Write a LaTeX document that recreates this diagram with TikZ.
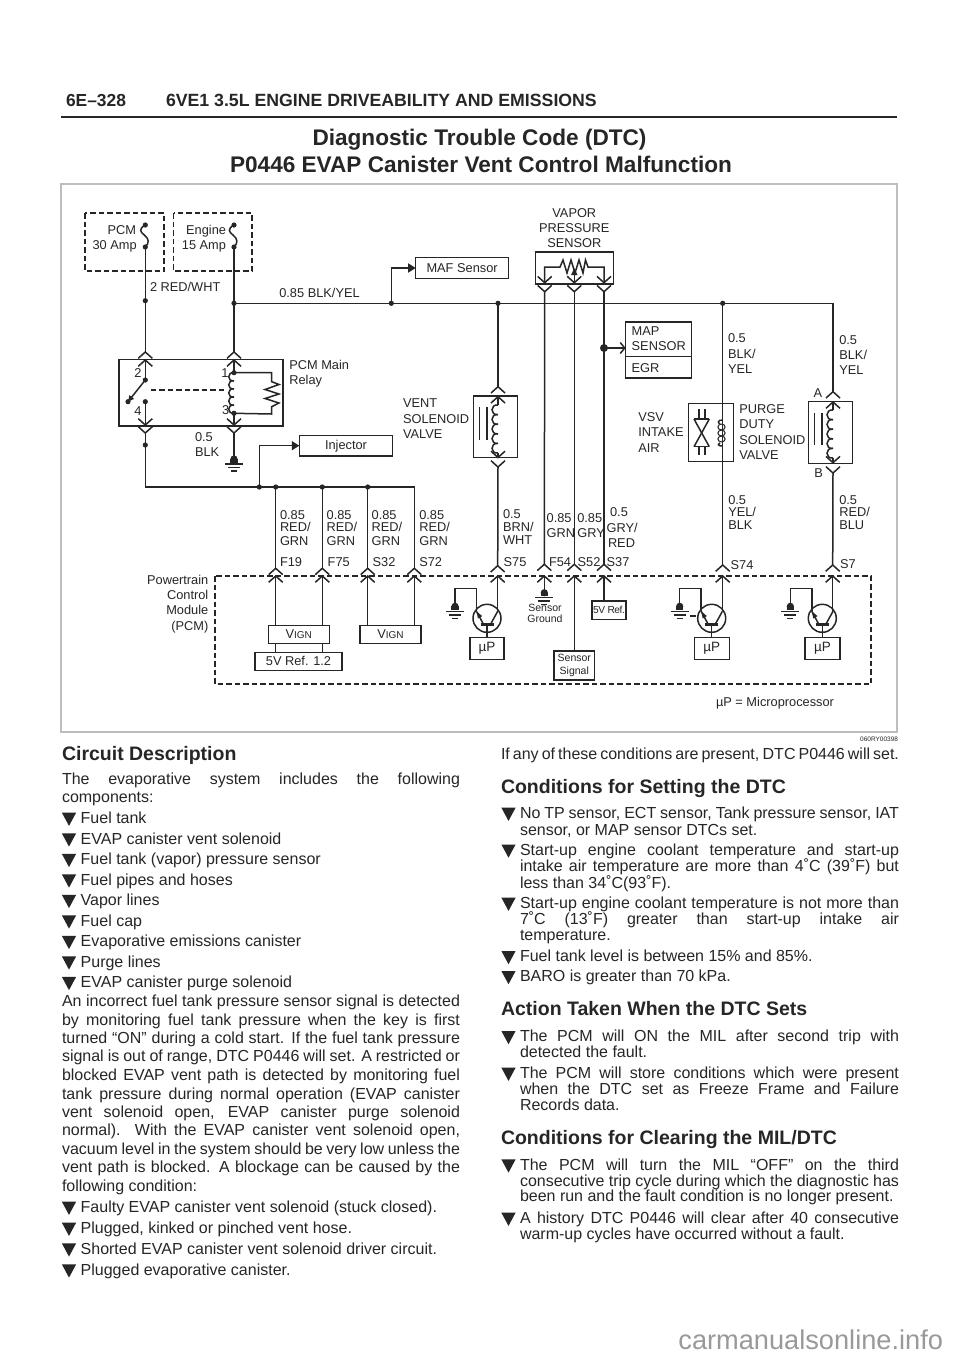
\documentclass[tikz,border=0pt]{standalone}
\usepackage{fontspec}
\setmainfont{Liberation Sans}
\usetikzlibrary{arrows.meta}
\definecolor{ink}{HTML}{262626}
\definecolor{framegray}{HTML}{BDBDBD}
\definecolor{markgray}{HTML}{999999}
\newcount\tcnt
\newcommand{\fs}[1]{\fontsize{#1}{#1}\selectfont}
\newcommand{\lab}[3]{\global\advance\tcnt by 1 \node[txt,anchor=base west] (t\the\tcnt) at (#1,{#2+4.6}) {\fs{12.8}#3};}
\newcommand{\labr}[3]{\global\advance\tcnt by 1 \node[txt,anchor=base east] (t\the\tcnt) at (#1,{#2+4.6}) {\fs{12.8}#3};}
\newcommand{\labc}[3]{\global\advance\tcnt by 1 \node[txt,anchor=base] (t\the\tcnt) at (#1,{#2+4.6}) {\fs{12.8}#3};}
% body text: x, centre y, text
\newcommand{\bt}[3]{\global\advance\tcnt by 1 \node[txt,anchor=base west] (t\the\tcnt) at (#1,{#2+5.6}) {\fs{16}#3};}
% justified line: x, centre y, width, text
\newcommand{\bj}[4]{\global\advance\tcnt by 1 \node[txt,anchor=base west] (t\the\tcnt) at (#1,{#2+5.6}) {\fs{16}\makebox[#3pt][s]{#4}};}
\newcommand{\hd}[3]{\global\advance\tcnt by 1 \node[txt,anchor=base west] (t\the\tcnt) at (#1,{#2+7}) {\fs{19.5}\bfseries #3};}
\newcommand{\tri}[2]{\fill[ink] ({#1+0.4},{#2-5}) -- ({#1+14.6},{#2-5}) -- ({#1+7.5},{#2+8.2}) -- cycle;}
\tikzset{
  txt/.style={inner sep=0pt,outer sep=0pt,text=ink},
  wire/.style={draw=ink,line width=1.5pt},
  box/.style={draw=ink,line width=1.5pt,inner sep=0pt,outer sep=0pt,text=ink},
  dsh/.style={draw=ink,line width=1.5pt,dash pattern=on 5.5pt off 3pt},
  chevup/.pic={\draw[wire] (-7,6.3) -- (0,0) -- (7,6.3);},
  chevdn/.pic={\draw[wire] (-7,-6.3) -- (0,0) -- (7,-6.3);},
  jdot/.pic={\fill[ink] (0,0) circle (2.6);},
  gnd/.pic={\fill[ink] (0,0) circle (3.6); \fill[ink] (-3.6,0) rectangle (3.6,3.6);
     \draw[wire] (-9,5) -- (9,5); \draw[wire] (-6,8.5) -- (6,8.5); \draw[wire] (-3,12) -- (3,12);},
  coilbump/.pic={\foreach \i in {0,...,4}{\draw[wire] (0,{\i*9.6}) .. controls (-8,{\i*9.6-1}) and (-8,{\i*9.6+10.6}) .. (0,{\i*9.6+9.6});}},
  relaycoil/.pic={\foreach \i in {0,...,4}{\draw[wire] (0,{\i*8.1}) .. controls (-7,{\i*8.1-1}) and (-7,{\i*8.1+9.1}) .. (0,{\i*8.1+8.1});}},
  fusewave/.pic={\draw[wire] (0,0) .. controls (-7,4) and (-5,7) .. (-1,10) .. controls (4,14) and (4,18) .. (0,22);},
  npn/.pic={
    \draw[wire] (0,0) circle (14);
    \draw[ink,line width=3.2pt] (-6.5,6) -- (6.5,6);
    \draw[wire] (10.7,-7) -- (3.5,6);
    \draw[wire] (-3.5,6) -- (-10.5,-7);
    \fill[ink] (-10.5,-7) -- (-4.8,-2.2) -- (-9,0.2) -- cycle;
    \draw[wire] (0,6) -- (0,19);
    \draw[wire] (-10.5,-7) -- (-10.5,-30) -- (-32,-30) -- (-32,-12);
    \pic at (-32,-12) {gnd};
  },
  ar/.style={-{Triangle[length=7.5pt,width=9pt]}},
  ab/.style={-{Straight Barb[length=4.5pt,width=11pt]}},
}
\begin{document}
\begin{tikzpicture}[x=1pt,y=-1pt]
\useasboundingbox (0,0) rectangle (960,1358);
\fill[white] (0,0) rectangle (960,1358);
% ---- header ----
\global\tcnt=0
\node[txt,anchor=base west] (hdA) at (66,106) {\fs{17.4}\bfseries 6E–328};
\node[txt,anchor=base west] (hdB) at (166,106) {\fs{17.7}\bfseries 6VE1 3.5L ENGINE DRIVEABILITY AND EMISSIONS};
\draw[ink,line width=1.8pt] (61,116.7) -- (897,116.7);
\node[txt,anchor=base] (ttlA) at (479.5,145) {\fs{22.6}\bfseries Diagnostic Trouble Code (DTC)};
\node[txt,anchor=base] (ttlB) at (481,172) {\fs{22.6}\bfseries P0446 EVAP Canister Vent Control Malfunction};
\draw[framegray,line width=1.4pt] (61,184) rectangle (897,732);
\node[txt,anchor=base east] (ref) at (898,741.5) {\fs{6.5}060RY00398};
\node[inner sep=0pt,outer sep=0pt,text=markgray,anchor=base east] (mark) at (943,1349.3) {\fs{27.2}carmanualsonline.info};

% ---- named points ----
\coordinate (f1t) at (145.3,225); \coordinate (f1b) at (145.3,247);
\coordinate (f2t) at (234,225);   \coordinate (f2b) at (234,247);
\coordinate (j1) at (145.3,300.7);
\coordinate (j2) at (234,303.3);
\coordinate (jmaf) at (391.3,303.3);
\coordinate (jv) at (498,303.3);
\coordinate (jp) at (722.7,303.3);
\coordinate (corner) at (833,303.3);
\coordinate (r2o) at (145.3,352); \coordinate (r2i) at (145.3,360);
\coordinate (sw1) at (145.3,380); \coordinate (sw2) at (145.3,401.7); \coordinate (swa) at (128,401.7);
\coordinate (r4i) at (145.3,425); \coordinate (r4o) at (145.3,433);
\coordinate (r1o) at (234,352); \coordinate (r1i) at (234,360);
\coordinate (c1) at (234,372.7); \coordinate (c3) at (234,413.3);
\coordinate (r3i) at (234,425); \coordinate (r3o) at (234,433);
\coordinate (g0) at (234,459);
\coordinate (j3) at (145.3,445);
\coordinate (bl) at (145.3,487);
\coordinate (ji) at (259.3,487);
\coordinate (p1) at (275.7,487); \coordinate (p2) at (322.3,487);
\coordinate (p3) at (367.7,487); \coordinate (p4) at (414.3,487);

% ---- fuses ----
\draw[dsh] (85,213) rectangle (164,271);
\draw[dsh] (173.5,213) rectangle (252,271);
\pic at (f1t) {fusewave}; \pic at (f2t) {fusewave};
\pic at (f1t) {jdot}; \pic at (f1b) {jdot}; \pic at (f2t) {jdot}; \pic at (f2b) {jdot};
\labr{136}{230}{PCM} \labr{136.7}{245}{30 Amp}
\labr{226}{230}{Engine} \labr{226}{245}{15 Amp}
\lab{150}{286.7}{2 RED/WHT}
\lab{279.3}{292.7}{0.85 BLK/YEL}

% ---- main wires ----
\draw[wire] (f1b) -- (r2o);
\draw[wire] (f2b) -- (r1o);
\draw[wire] (j2) -- (corner) -- (833,391.7);
\pic at (j1) {jdot}; \pic at (j2) {jdot}; \pic at (jmaf) {jdot}; \pic at (jv) {jdot}; \pic at (jp) {jdot};

% MAF
\node[box,minimum width=92.8pt,minimum height=21pt] (maf) at (462.1,268) {\fs{12.8}MAF Sensor};
\draw[wire,ar] (jmaf) |- (maf.west);

% ---- relay ----
\draw[box] (119,359.7) rectangle (283,426);
\pic at (r2o) {chevup}; \pic at (r2i) {chevup};
\pic at (r1o) {chevup}; \pic at (r1i) {chevup};
\pic at (r4i) {chevdn}; \pic at (r4o) {chevdn};
\pic at (r3i) {chevdn}; \pic at (r3o) {chevdn};
\draw[wire] (r2i) -- (sw1);
\draw[wire,-{Triangle[length=6pt,width=5.5pt]}] (sw1) -- (swa);
\draw[wire] (sw2) -- (r4i);
\pic at (sw1) {jdot}; \pic at (sw2) {jdot}; \pic at (swa) {jdot};
\draw[dsh] (150.7,390) -- (226.7,390);
\draw[wire] (r1i) -- (c1);
\pic at (c1) {relaycoil};
\draw[wire] (c3) -- (r3i);
\draw[wire] (c1) -- (271.7,372.7) -- (271.7,381.7) -- (279,384.5) -- (265,389.5) -- (279,394) -- (265,398.5) -- (279,403) -- (271.7,406.7) -- (271.7,414) -- (c3);
\pic at (c1) {jdot}; \pic at (c3) {jdot};
\lab{289.3}{365}{PCM Main} \lab{289.3}{380}{Relay}
\labc{138}{372.7}{2} \labc{138}{410.7}{4} \labc{225}{372.7}{1} \labc{225.7}{410}{3}
\draw[wire] (r3o) -- (g0);
\pic at (g0) {gnd};
\lab{195}{437}{0.5} \lab{195}{452}{BLK}

% lower bus
\draw[wire] (r4o) -- (bl) -- (p4) -- (414.3,568.3);
\pic at (j3) {jdot}; \pic at (ji) {jdot}; \pic at (p1) {jdot}; \pic at (p2) {jdot}; \pic at (p3) {jdot};
\node[box,minimum width=93.4pt,minimum height=20.7pt] (inj) at (346,445.7) {\fs{12.8}Injector};
\draw[wire,ar] (ji) |- (inj.west);
\draw[wire] (p1) -- (275.7,568.3);
\draw[wire] (p2) -- (322.3,568.3);
\draw[wire] (p3) -- (367.7,568.3);

% ---- vent solenoid ----
\coordinate (vt) at (498,386.7); \coordinate (vi) at (498,396.7);
\coordinate (vb) at (498,457.5); \coordinate (vo) at (498,467);
\draw[wire] (jv) -- (vt);
\draw[box] (473.3,396) rectangle (517.3,457.7);
\pic at (vt) {chevup}; \pic at (vi) {chevup};
\pic at (vb) {chevdn}; \pic at (vo) {chevdn};
\pic at (498,405) {coilbump};
\draw[wire] (vi) -- (498,405); \draw[wire] (498,453) -- (vb);
\draw[wire] (479.7,407.4) -- (479.7,439.7); \draw[wire] (487,407.4) -- (487,439.7);
\draw[wire] (vo) -- (497.7,565.7);
\lab{403}{403}{VENT} \lab{403}{419}{SOLENOID} \lab{403}{434}{VALVE}

% ---- vapor pressure sensor ----
\labc{574.3}{213}{VAPOR} \labc{574.3}{228}{PRESSURE} \labc{574.3}{243}{SENSOR}
\draw[box] (535.3,252) rectangle (613.3,284);
\coordinate (va1) at (544.7,282.7); \coordinate (va2) at (574.3,282.7); \coordinate (va3) at (604,282.7);
\coordinate (vb1) at (544.7,291.7); \coordinate (vb2) at (574.3,291.7); \coordinate (vb3) at (604,291.7);
\draw[wire] (va1) -- (544.7,267) -- (560,267) -- (563,260) -- (567,273) -- (571,260) -- (575,273) -- (579,260) -- (583,273) -- (585.5,260) -- (588,267) -- (604,267) -- (va3);
\draw[wire,-{Triangle[length=7pt,width=6pt]}] (va2) -- (574.3,268);
\foreach \n in {va1,va2,va3,vb1,vb2,vb3}{\pic at (\n) {chevdn};}
\coordinate (pa1) at (544.3,564.3); \coordinate (pa2) at (574.3,564.3); \coordinate (pa3) at (604,564.3);
\coordinate (qa1) at (544.3,576); \coordinate (qa2) at (574.3,576); \coordinate (qa3) at (604,576);
\draw[wire] (vb1) -- (pa1); \draw[wire] (vb2) -- (pa2); \draw[wire] (vb3) -- (pa3);

% ---- MAP ----
\coordinate (jm) at (604,348);
\fill[ink] (jm) circle (4);
\draw[box] (625.7,322) rectangle (691.7,378);
\draw[wire] (625.7,356.7) -- (691.7,356.7);
\coordinate (mapin) at (625.7,348);
\draw[wire,ab] (jm) -- (mapin);
\lab{631.7}{331}{MAP} \lab{631.7}{346}{SENSOR} \lab{631.7}{368}{EGR}

% ---- purge ----
\draw[wire] (jp) -- (722.7,565);
\draw[box] (688.3,403.3) rectangle (733.3,461.7);
\draw[wire] (694,419) -- (709.3,419); \draw[wire] (694,446.7) -- (709.3,446.7);
\draw[wire] (694,419) -- (709.3,446.7); \draw[wire] (709.3,419) -- (694,446.7);
\draw[wire] (699,409) -- (699,419); \draw[wire] (705,409) -- (705,419);
\draw[wire] (699,446.7) -- (699,455); \draw[wire] (705,446.7) -- (705,455);
\draw[wire] (722.7,420) .. controls (717,420) and (718,423) .. (720,424);
\foreach \yy in {427,433,439}{\draw[ink,line width=1pt] (721.5,\yy) ellipse (3.6 and 2.9);}
\draw[wire] (720,443) .. controls (718,444) and (717,446) .. (722.7,446);
\lab{739.3}{409}{PURGE} \lab{739.3}{424}{DUTY} \lab{739.3}{440}{SOLENOID} \lab{739.3}{455}{VALVE}
\lab{638.3}{417}{VSV} \lab{638.3}{432}{INTAKE} \lab{638.3}{448}{AIR}
\lab{728}{338}{0.5} \lab{728}{354}{BLK/} \lab{728}{369}{YEL}

% ---- A/B solenoid ----
\draw[box] (808.7,401.3) rectangle (852.7,463.3);
\coordinate (at) at (833,391.7); \coordinate (ai) at (833,402);
\coordinate (bi) at (833,462.7); \coordinate (bo) at (833,473);
\pic at (at) {chevup}; \pic at (ai) {chevup}; \pic at (bi) {chevdn}; \pic at (bo) {chevdn};
\pic at (833,410) {coilbump};
\draw[wire] (ai) -- (833,410); \draw[wire] (833,458) -- (bi);
\draw[wire] (814.7,412.7) -- (814.7,445); \draw[wire] (822,412.7) -- (822,445);
\draw[wire] (bo) -- (832.7,565);
\labc{818}{392.7}{A} \labc{818.7}{473}{B}
\lab{839.3}{339.5}{0.5} \lab{839.3}{354.7}{BLK/} \lab{839.3}{370}{YEL}

% ---- wire labels ----
\foreach \xx/\pp/\pn in {280/280/F19,326.7/327.7/F75,371.7/372.7/S32,419.3/419.3/S72}{
  \lab{\xx}{515}{0.85} \lab{\xx}{527.3}{RED/} \lab{\xx}{540.7}{GRN} \lab{\pp}{561.7}{\pn}
}
\lab{503}{513.7}{0.5} \lab{503}{526.7}{BRN/} \lab{503}{540}{WHT} \lab{503.7}{562}{S75}
\lab{546.7}{518.3}{0.85} \lab{546.7}{533.3}{GRN} \lab{549}{562}{F54}
\lab{577.3}{518.3}{0.85} \lab{577.3}{533.3}{GRY} \lab{577.7}{562}{S52}
\labc{619}{512}{0.5} \lab{606.7}{528}{GRY/} \lab{608}{543}{RED} \lab{606.7}{562}{S37}
\lab{728.3}{500}{0.5} \lab{728.3}{512}{YEL/} \lab{728.3}{525}{BLK} \lab{730.7}{564.7}{S74}
\lab{839.3}{500}{0.5} \lab{839.3}{512}{RED/} \lab{839.3}{525}{BLU} \lab{840}{564}{S7}

% ---- PCM ----
\draw[dsh] (215,576) rectangle (871,684);
\labr{208.3}{580}{Powertrain} \labr{208.3}{595}{Control} \labr{208.3}{610}{Module} \labr{208.3}{625.5}{(PCM)}
\foreach \xx in {275.7,322.3,367.7,414.3}{\pic at (\xx,568.3) {chevup}; \pic at (\xx,576) {chevup};}
\foreach \xx in {497.7}{\pic at (\xx,565.7) {chevup}; \pic at (\xx,576) {chevup};}
\foreach \n in {pa1,pa2,pa3,qa1,qa2,qa3}{\pic at (\n) {chevup};}
\foreach \xx in {722.7,832.7}{\pic at (\xx,565) {chevup}; \pic at (\xx,576) {chevup};}

\node[box,minimum width=61pt,minimum height=18pt] (vign1) at (298.8,634.3) {\fs{12.8}V{\fs{10}IGN}};
\node[box,minimum width=61pt,minimum height=18pt] (vign2) at (390.5,634.3) {\fs{12.8}V{\fs{10}IGN}};
\node[box,minimum width=87pt,minimum height=18pt] (vref) at (298.5,661.3) {\fs{12.8}5V Ref. 1.2};
\draw[wire] (275.7,576) -- (275.7,625.3); \draw[wire] (322.3,576) -- (322.3,625.3);
\draw[wire] (367.7,576) -- (367.7,625.3); \draw[wire] (414.3,576) -- (414.3,625.3);
\draw[wire] (275.7,643.3) -- (275.7,652.3); \draw[wire] (322.3,643.3) -- (322.3,652.3);

% transistors
\coordinate (tr1) at (487,618.3); \coordinate (tr2) at (711.7,618.3); \coordinate (tr3) at (822.3,618.3);
\pic at (tr1) {npn}; \pic at (tr2) {npn}; \pic at (tr3) {npn};
\node[box,minimum width=34pt,minimum height=22pt] (up1) at (487,648.3) {\fs{13.5}µP};
\node[box,minimum width=35pt,minimum height=22pt] (up2) at (711.8,648.3) {\fs{13.5}µP};
\node[box,minimum width=35pt,minimum height=22pt] (up3) at (822.5,648.3) {\fs{13.5}µP};
\draw[wire] (497.7,576) -- (497.7,611.3);
\draw[wire] (722.7,576) -- (722.7,611.3);
\draw[wire] (832.7,576) -- (832.7,611.3);
\draw[wire] (690,616) -- (696,616);

% sensor ground / signal / 5V
\draw[wire] (qa1) -- (544.3,592.7);
\pic at (544.3,592.7) {gnd};
\node[txt,anchor=base] (sg1) at (545,611.5) {\fs{10.5}Sensor};
\node[txt,anchor=base] (sg2) at (545,622.5) {\fs{10.5}Ground};
\node[box,minimum width=40.7pt,minimum height=29pt,align=center] (ssig) at (574.3,665.5) {\fs{10.5}Sensor\\[0.5pt]\fs{10.5}Signal};
\draw[wire] (qa2) -- (ssig.north);
\node[box,minimum width=34pt,minimum height=18.7pt] (vr5) at (609,610.3) {\fs{10.2}\addfontfeature{LetterSpace=-4}5V Ref.};
\draw[wire] (qa3) -- (604,601);

\node[txt,anchor=base west] (mp) at (716,706.5) {\fs{12.8}µP = Microprocessor};

% ---- left column ----
\hd{62}{753.7}{Circuit Description}
\bj{62}{778.7}{398}{The evaporative system includes the following}
\bt{62}{797}{components:}
\foreach \yy/\tt in {817.7/Fuel tank,838.4/EVAP canister vent solenoid,858.9/Fuel tank (vapor) pressure sensor,879.4/Fuel pipes and hoses,899.9/Vapor lines,920.4/Fuel cap,940.9/Evaporative emissions canister,961.4/Purge lines,981.9/EVAP canister purge solenoid}{
  \tri{61.5}{\yy} \bt{80.7}{\yy}{\tt}
}
\bj{62}{1001}{398}{An incorrect fuel tank pressure sensor signal is detected}
\bj{62}{1019.4}{398}{by monitoring fuel tank pressure when the key is first}
\bj{62}{1037.7}{398}{turned “ON” during a cold start.  If the fuel tank pressure}
\bj{62}{1056}{398}{signal is out of range, DTC P0446 will set. A restricted or}
\bj{62}{1075}{398}{blocked EVAP vent path is detected by monitoring fuel}
\bj{62}{1093.4}{398}{tank pressure during normal operation (EVAP canister}
\bj{62}{1111.7}{398}{vent solenoid open, EVAP canister purge solenoid}
\bj{62}{1130}{398}{normal).  With the EVAP canister vent solenoid open,}
\bj{62}{1148.7}{398}{vacuum level in the system should be very low unless the}
\bj{62}{1167}{398}{vent path is blocked.  A blockage can be caused by the}
\bt{62}{1185.7}{following condition:}
\tri{61.5}{1206.7} \bt{80.7}{1206.7}{Faulty EVAP canister vent solenoid (stuck closed).}
\tri{61.5}{1227.7} \bt{80.7}{1227.7}{Plugged, kinked or pinched vent hose.}
\tri{61.5}{1248.4} \bt{80.7}{1248.4}{Shorted EVAP canister vent solenoid driver circuit.}
\tri{61.5}{1269.4} \bt{80.7}{1269.4}{Plugged evaporative canister.}

% ---- right column ----
\bj{501}{753.7}{398}{If any of these conditions are present, DTC P0446 will set.}
\hd{501}{786.3}{Conditions for Setting the DTC}
\tri{501}{812.7} \bj{520}{812.7}{379}{No TP sensor, ECT sensor, Tank pressure sensor, IAT}
\bt{520}{829.5}{sensor, or MAP sensor DTCs set.}
\tri{501}{849.5} \bj{520}{849.5}{379}{Start-up engine coolant temperature and start-up}
\bj{520}{866}{379}{intake air temperature are more than 4˚C (39˚F) but}
\bt{520}{882.7}{less than 34˚C(93˚F).}
\tri{501}{902.7} \bj{520}{902.7}{379}{Start-up engine coolant temperature is not more than}
\bj{520}{918.7}{379}{7˚C (13˚F) greater than start-up intake air}
\bt{520}{934.7}{temperature.}
\tri{501}{956} \bt{520}{956}{Fuel tank level is between 15\% and 85\%.}
\tri{501}{976} \bt{520}{976}{BARO is greater than 70 kPa.}
\hd{501}{1008.7}{Action Taken When the DTC Sets}
\tri{501}{1036} \bj{520}{1036}{379}{The PCM will ON the MIL after second trip with}
\bt{520}{1052}{detected the fault.}
\tri{501}{1072.7} \bj{520}{1072.7}{379}{The PCM will store conditions which were present}
\bj{520}{1088.7}{379}{when the DTC set as Freeze Frame and Failure}
\bt{520}{1104.4}{Records data.}
\hd{501}{1137.3}{Conditions for Clearing the MIL/DTC}
\tri{501}{1164.4} \bj{520}{1164.4}{379}{The PCM will turn the MIL “OFF” on the third}
\bj{520}{1180.4}{379}{consecutive trip cycle during which the diagnostic has}
\bt{520}{1196}{been run and the fault condition is no longer present.}
\tri{501}{1217.7} \bj{520}{1217.7}{379}{A history DTC P0446 will clear after 40 consecutive}
\bt{520}{1233.4}{warm-up cycles have occurred without a fault.}
\end{tikzpicture}
\end{document}
